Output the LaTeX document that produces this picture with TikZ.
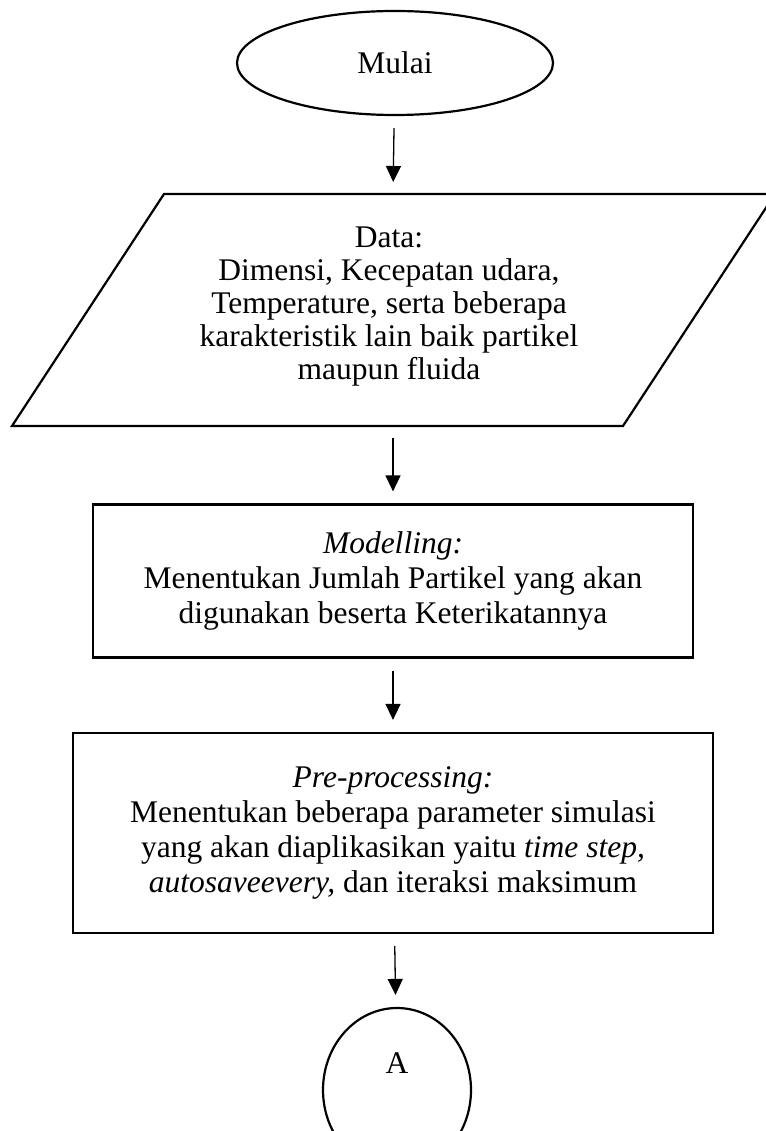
\documentclass[tikz,border=0pt]{standalone}
\usepackage{fontspec}
\setmainfont{Liberation Serif}
\usetikzlibrary{shapes.geometric,arrows.meta}
\tikzset{
  box/.style={draw, line width=2.2pt, align=center, inner sep=0pt},
  arr/.style={line width=1.3pt, -{Triangle[width=15pt,length=16pt]}, shorten <=12pt, shorten >=12pt},
}
\begin{document}
\begin{tikzpicture}[x=1pt,y=-1pt,font=\fontsize{31.5}{35}\selectfont]
			\useasboundingbox (0,0) rectangle (765,1131);
			\node[box, ellipse, minimum width=316pt, minimum height=104pt] (mulai) at (395,63) {Mulai};
			% parallelogram for the input data
			\coordinate (p1) at (164,194);
			\coordinate (p2) at (775,194);
			\coordinate (p3) at (623,426);
			\coordinate (p4) at (12,426);
			\draw[line width=2.2pt] (p1) -- (p2) -- (p3) -- (p4) -- cycle;
			\node[align=center, font=\fontsize{31.5}{33}\selectfont] (data) at (389,307) {Data:\\ Dimensi, Kecepatan udara,\\ Temperature, serta beberapa\\ karakteristik lain baik partikel\\ maupun fluida};
			\coordinate (datatop) at (393,194);
			\coordinate (databot) at (393,426);
			\node[box, minimum width=600pt, minimum height=153pt] (model) at (393,581) {\textit{Modelling:}\\ Menentukan Jumlah Partikel yang akan\\ digunakan beserta Keterikatannya};
			\node[box, minimum width=640pt, minimum height=200pt] (pre) at (393,833) {\textit{Pre-processing:}\\ Menentukan beberapa parameter simulasi\\ yang akan diaplikasikan yaitu \textit{time step,}\\ \textit{autosaveevery,} dan iteraksi maksimum};
			\node[box, ellipse, minimum width=148pt, minimum height=164pt] (a) at (397,1090) {};
			\node (alabel) at (397,1063) {A};
			\draw[arr] (mulai) -- (datatop);
			\draw[arr] (databot) -- (model);
			\draw[arr] (model) -- (pre);
			\draw[arr] (pre) -- (a);
		\end{tikzpicture}
\end{document}
